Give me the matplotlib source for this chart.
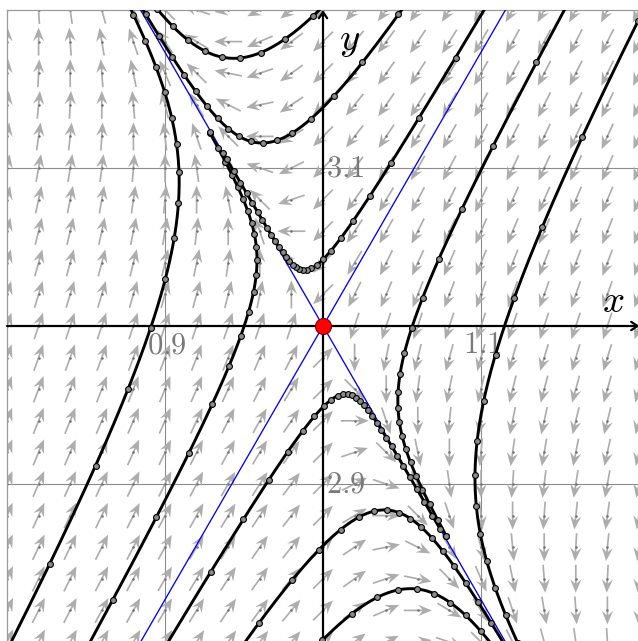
import numpy as np
import matplotlib
matplotlib.use("Agg")
import matplotlib.pyplot as plt

plt.rcParams['mathtext.fontset'] = 'cm'

# ---------------- data ----------------
x_range = [0.8, 1.2]
y_range = [2.8, 3.2]
equilibrium = [1.0, 3.0]
# linearised system  d/dt (x, y) = J (x - 1, y - 3)
jacobian = [[-1.0, -1.0],
            [-3.0, -1.0]]
grid_x = [0.9, 1.1]
grid_y = [2.9, 3.1]
x_tick_labels = ['0.9', '1.1']
y_tick_labels = ['2.9', '3.1']

# one point on each drawn trajectory
seed_x = [0.90886, 0.95823, 0.94747, 0.96203, 0.98987, 1.04747, 1.09620, 1.01266, 1.04051, 1.05949]
seed_y = [3.09747, 3.04177, 3.16962, 3.11582, 3.03544, 2.94810, 2.90570, 2.95696, 2.88354, 2.83354]
# where a trajectory stops inside the window (nan = runs off the window)
end_x = [np.nan, 0.92848, np.nan, np.nan, 0.93861, 1.07911, np.nan, 1.07532, np.nan, np.nan]
end_y = [np.nan, 3.12278, np.nan, np.nan, 3.11013, 2.86772, np.nan, 2.87278, np.nan, np.nan]

# ---------------- system ----------------
J = np.array(jacobian)
eq = np.array(equilibrium)


def field(px, py):
    dx = px - eq[0]
    dy = py - eq[1]
    return J[0, 0] * dx + J[0, 1] * dy, J[1, 0] * dx + J[1, 1] * dy


def f(p):
    u, v = field(p[0], p[1])
    return np.array([u, v])


h = 0.005
mark_every = 21


def integrate(p0, sign, tmax=12.0):
    pts = [np.array(p0, float)]
    p = np.array(p0, float)
    for _ in range(int(tmax / h)):
        s = sign * h
        k1 = f(p)
        k2 = f(p + 0.5 * s * k1)
        k3 = f(p + 0.5 * s * k2)
        k4 = f(p + s * k3)
        p = p + s / 6 * (k1 + 2 * k2 + 2 * k3 + k4)
        pts.append(p.copy())
        if (p[0] < x_range[0] - 0.02 or p[0] > x_range[1] + 0.02 or
                p[1] < y_range[0] - 0.02 or p[1] > y_range[1] + 0.02):
            break
    return np.array(pts)


# ---------------- figure ----------------
fig = plt.figure(figsize=(6.38, 6.41), dpi=100)
ax = fig.add_axes([7 / 638, -1 / 641, 632 / 638, 632 / 641])
ax.set_xlim(*x_range)
ax.set_ylim(*y_range)
ax.set_xticks(grid_x)
ax.set_yticks(grid_y)
ax.tick_params(length=0, labelbottom=False, labelleft=False)
ax.grid(True, color='#8c8c8c', lw=0.8, zorder=0)
ax.set_axisbelow(True)
for s in ['top', 'left']:
    ax.spines[s].set_color('#9a9a9a')
    ax.spines[s].set_linewidth(0.9)
for s in ['right', 'bottom']:
    ax.spines[s].set_visible(False)

# direction field
gx = np.linspace(x_range[0], x_range[1], 21)
gy = np.linspace(y_range[0], y_range[1], 21)
X, Y = np.meshgrid(gx, gy)
U, V = field(X, Y)
N = np.hypot(U, V)
N[N == 0] = 1
L = 28 / 1580
ax.quiver(X, Y, U / N * L, V / N * L, angles='xy', scale_units='xy', scale=1,
          pivot='mid', units='dots', width=1.7, headwidth=6.6, headlength=8,
          headaxislength=5.5, color='#adadad', zorder=2)
ax.plot(X.ravel(), Y.ravel(), 'o', ms=1.8, color='#707070', mec='none', zorder=2.5)

# eigenvector lines
w, vecs = np.linalg.eig(J)
for k in range(2):
    v = vecs[:, k]
    ax.plot([eq[0] - v[0], eq[0] + v[0]], [eq[1] - v[1], eq[1] + v[1]],
            color='#0000ff', lw=0.95, zorder=3)

# coordinate axes with arrows
ax.annotate('', xy=(x_range[1] + 0.0003, eq[1]), xytext=(x_range[0], eq[1]),
            arrowprops=dict(arrowstyle='->,head_length=0.45,head_width=0.3', lw=1.6,
                            color='black', shrinkA=0, shrinkB=0), zorder=3.5)
ax.annotate('', xy=(eq[0], y_range[1]), xytext=(eq[0], y_range[0]),
            arrowprops=dict(arrowstyle='->,head_length=0.45,head_width=0.3', lw=1.6,
                            color='black', shrinkA=0, shrinkB=0), zorder=3.5)

# trajectories
for i in range(len(seed_x)):
    p0 = [seed_x[i], seed_y[i]]
    back = integrate(p0, -1)
    fwd = integrate(p0, +1)
    if not np.isnan(end_x[i]):
        d = np.hypot(fwd[:, 0] - end_x[i], fwd[:, 1] - end_y[i])
        fwd = fwd[:np.argmin(d) + 1]
    path = np.vstack([back[::-1], fwd[1:]])
    ax.plot(path[:, 0], path[:, 1], color='black', lw=2.1, zorder=4,
            solid_capstyle='round')
    mk = np.vstack([back[::mark_every][::-1], fwd[mark_every::mark_every]])
    if not np.isnan(end_x[i]):
        mk = np.vstack([mk, fwd[-1:]])
    ax.plot(mk[:, 0], mk[:, 1], 'o', ms=4.2, mfc='#8a8a8a', mec='black',
            mew=0.8, zorder=5, linestyle='none')

# equilibrium
ax.plot(eq[0], eq[1], 'o', ms=11.5, mfc='#ff0000', mec='#7a0000', mew=0.8, zorder=6)

# tick labels
for xv, lab in zip(grid_x, x_tick_labels):
    ax.annotate('$' + lab + '$', xy=(xv, eq[1]), xytext=(1, -3), textcoords='offset points',
                ha='center', va='top', fontsize=22, color='#7a7a7a', zorder=3.6)
for yv, lab in zip(grid_y, y_tick_labels):
    ax.annotate('$' + lab + '$', xy=(eq[0], yv), xytext=(2, 0), textcoords='offset points',
                ha='left', va='center', fontsize=22, color='#7a7a7a', zorder=3.6)

ax.text(1.1835, 3.0158, '$x$', fontsize=28, ha='center', va='center', zorder=7)
ax.text(1.0165, 3.181, '$y$', fontsize=28, ha='center', va='center', zorder=7)

fig.savefig('out.png', dpi=100)
